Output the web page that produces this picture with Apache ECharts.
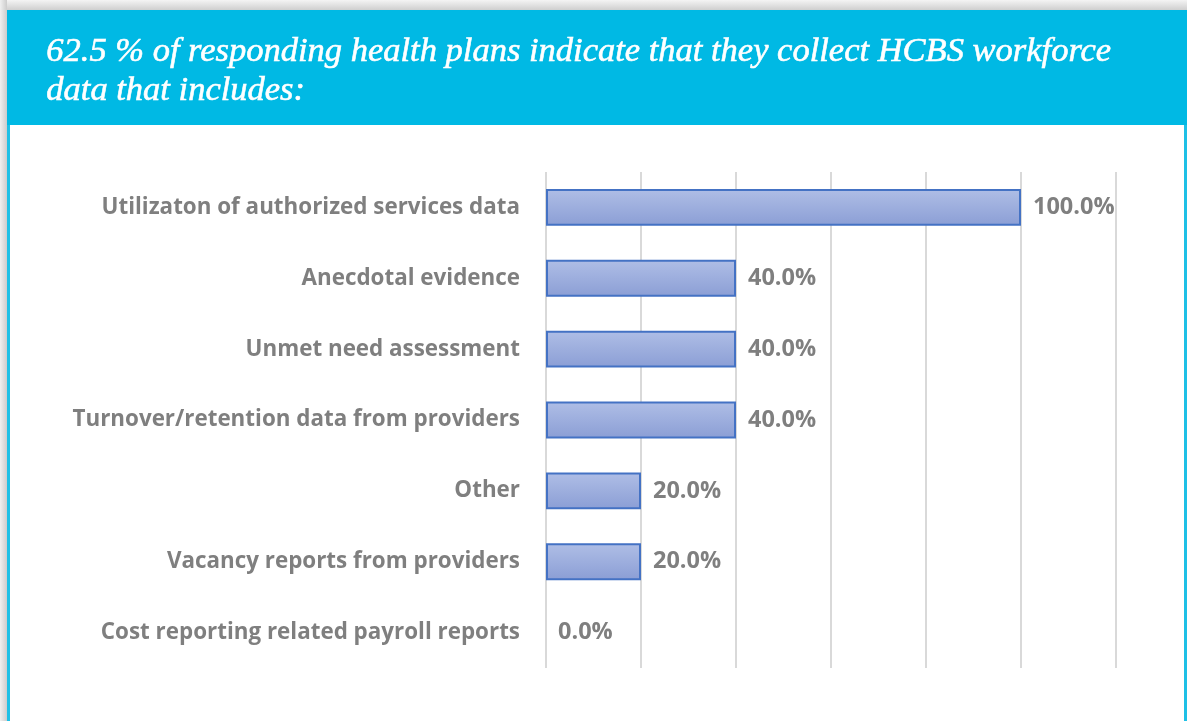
<!DOCTYPE html>
<html>
<head>
<meta charset="utf-8">
<script src="https://cdn.jsdelivr.net/npm/echarts@6/dist/echarts.min.js"></script>
<style>
html,body{margin:0;padding:0;background:#fff;}
#c{width:1187px;height:721px;}
</style>
</head>
<body>
<div id="c"></div>
<script>
const titleLines = ['62.5 % of responding health plans indicate that they collect HCBS workforce', 'data that includes:'];
const categories = [
  'Utilizaton of authorized services data',
  'Anecdotal evidence',
  'Unmet need assessment',
  'Turnover/retention data from providers',
  'Other',
  'Vacancy reports from providers',
  'Cost reporting related payroll reports'
];
const values = [100, 40, 40, 40, 20, 20, 0];
const axisTicks = [0, 20, 40, 60, 80, 100, 120];

const chart = echarts.init(document.getElementById('c'), null, {renderer: 'canvas'});
const labelFont = '"Open Sans", sans-serif';
chart.setOption({
  backgroundColor: '#ffffff',
  animation: false,
  graphic: [
    {type: 'rect', shape: {x: 0, y: 0, width: 1187, height: 10}, style: {fill: new echarts.graphic.LinearGradient(0,0,0,1,[{offset:0,color:'#f4f4f4'},{offset:1,color:'#cfcfcf'}])}, z: 0},
    {type: 'rect', shape: {x: 0, y: 0, width: 7, height: 721}, style: {fill: new echarts.graphic.LinearGradient(0,0,1,0,[{offset:0,color:'#f0f0f0'},{offset:1,color:'#cccccc'}])}, z: 0},
    {type: 'rect', shape: {x: 7, y: 10, width: 1180, height: 115}, style: {fill: '#00B9E4'}, z: 1},
    {type: 'rect', shape: {x: 7, y: 125, width: 3, height: 596}, style: {fill: '#1EC0E6'}, z: 1},
    {type: 'rect', shape: {x: 1184, y: 125, width: 3, height: 596}, style: {fill: '#1EC0E6'}, z: 1},
    {type: 'text', left: 46, top: 32, z: 2, style: {text: titleLines.join('\n'), fill: '#ffffff', stroke: '#ffffff', lineWidth: 0.6, font: 'italic 34.5px "Liberation Serif", serif', lineHeight: 39}}
  ],
  grid: {left: 546, right: 71, top: 172, bottom: 53, containLabel: false},
  xAxis: {
    type: 'value', min: axisTicks[0], max: axisTicks[axisTicks.length - 1], interval: 20,
    axisLabel: {show: false}, axisLine: {show: false}, axisTick: {show: false},
    splitLine: {show: true, lineStyle: {color: '#D9D9D9', width: 2}}
  },
  yAxis: {
    type: 'category', data: categories, inverse: true,
    axisLine: {show: false}, axisTick: {show: false},
    axisLabel: {color: '#7F7F7F', fontFamily: labelFont, fontWeight: 'bold', fontSize: 22.4, margin: 26, padding: [3, 0, 0, 0]}
  },
  series: [{
    type: 'bar',
    data: values.map(v => v === 0 ? {value: v, itemStyle: {borderWidth: 0}} : v),
    barCategoryGap: '48%',
    itemStyle: {
      color: new echarts.graphic.LinearGradient(0,0,0,1,[{offset:0,color:'#AFBEE6'},{offset:1,color:'#8B9ED5'}]),
      borderColor: '#4472C4', borderWidth: 2
    },
    label: {show: true, position: 'right', distance: 12, color: '#7F7F7F', fontFamily: labelFont, fontWeight: 'bold', fontSize: 23.5,
      padding: [4, 0, 0, 0],
      formatter: p => p.value.toFixed(1) + '%'}
  }]
});
</script>
</body>
</html>
